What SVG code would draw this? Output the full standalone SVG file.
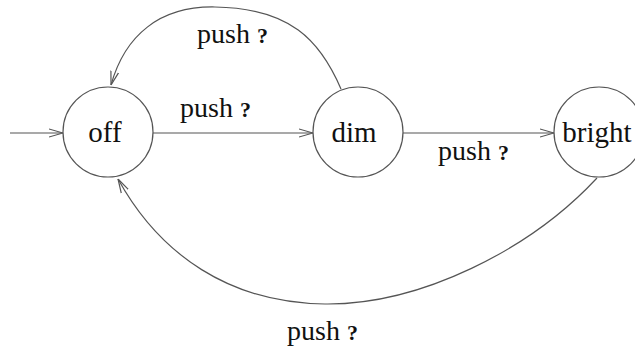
<svg xmlns="http://www.w3.org/2000/svg" width="635" height="347" viewBox="0 0 635 347">
  <style>
    .state { fill: #ffffff; stroke: #555555; stroke-width: 1.2; }
    .edge { fill: none; stroke: #555555; stroke-width: 1.2; marker-end: url(#arrow); }
    .name { font-family: "Liberation Serif", "Times New Roman", serif; font-size: 29px; fill: #111111; text-anchor: middle; }
    .lbl { font-family: "Liberation Serif", "Times New Roman", serif; font-size: 28px; fill: #111111; }
    .q { font-size: 22px; font-weight: bold; }
  </style>
  <defs>
    <marker id="arrow" viewBox="0 0 14 10" refX="14" refY="5" markerWidth="14" markerHeight="10" markerUnits="userSpaceOnUse" orient="auto">
      <path d="M0,1 L14,5 L0,9" fill="none" stroke="#555555" stroke-width="1.2"/>
    </marker>
  </defs>

  <g id="connectors">
    <!-- initial arrow -->
    <path class="edge" d="M10,133 L63,133"/>
    <!-- off -> dim -->
    <path class="edge" d="M153,133 L313,133"/>
    <!-- dim -> bright -->
    <path class="edge" d="M403,133 L554,133"/>
    <!-- dim -> off (over the top) -->
    <path class="edge" d="M341,89 C320,40 290,8 215,7 C160,6 125,35 111,85"/>
    <!-- bright -> off (underneath) -->
    <path class="edge" d="M597,178 C530,250 420,305 325,304 C230,303 160,255 118,179"/>
    <text class="lbl" x="180" y="117">push <tspan class="q">?</tspan></text>
    <text class="lbl" x="197" y="43">push <tspan class="q">?</tspan></text>
    <text class="lbl" x="438" y="160">push <tspan class="q">?</tspan></text>
    <text class="lbl" x="287" y="340">push <tspan class="q">?</tspan></text>
  </g>

  <g id="off">
    <circle class="state" cx="108" cy="132" r="45"/>
    <text class="name" x="105" y="142">off</text>
  </g>
  <g id="dim">
    <circle class="state" cx="358" cy="132" r="45"/>
    <text class="name" x="354" y="142">dim</text>
  </g>
  <g id="bright">
    <circle class="state" cx="599" cy="132" r="45"/>
    <text class="name" x="597" y="142">bright</text>
  </g>
</svg>
